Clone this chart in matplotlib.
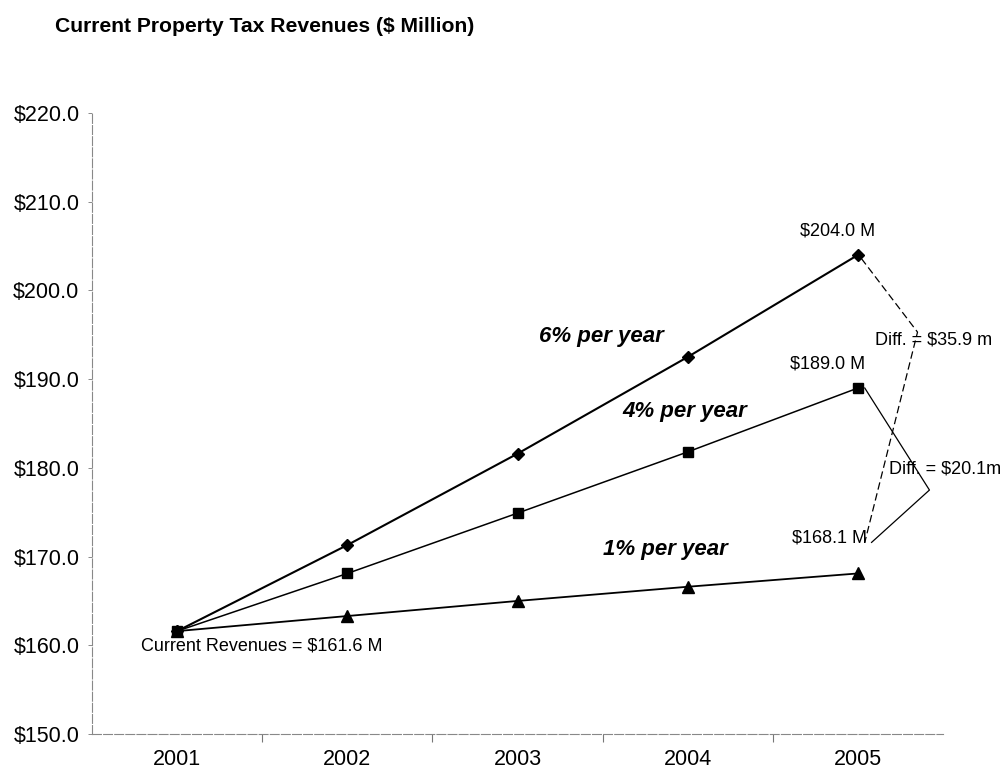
import matplotlib
matplotlib.use('Agg')
import matplotlib.pyplot as plt
from matplotlib.ticker import FixedLocator, FuncFormatter

plt.rcParams['font.family'] = ['Liberation Sans', 'DejaVu Sans']

# --- Data ---
years = [2001, 2002, 2003, 2004, 2005]
rev_6pct = [161.6, 171.3, 181.6, 192.5, 204.0]
rev_4pct = [161.6, 168.1, 174.9, 181.8, 189.0]
rev_1pct = [161.6, 163.3, 165.0, 166.6, 168.1]
current_rev = 161.6
y_ticks = [150, 160, 170, 180, 190, 200, 210, 220]
diff_6_label = 'Diff. = $35.9 m'
diff_4_label = 'Diff. = $20.1m'

fig = plt.figure(figsize=(10.07, 7.77), dpi=100)
ax = fig.add_axes([0.0914, 0.0553, 0.8451, 0.7993])

ax.plot(years, rev_6pct, color='black', lw=1.5, marker='D', ms=6, zorder=3)
ax.plot(years, rev_4pct, color='black', lw=1.1, marker='s', ms=7, zorder=3)
ax.plot(years, rev_1pct, color='black', lw=1.3, marker='^', ms=8, zorder=3)

ax.set_xlim(years[0] - 0.5, years[-1] + 0.5)
ax.set_ylim(y_ticks[0], y_ticks[-1])

# y axis
ax.yaxis.set_major_locator(FixedLocator(y_ticks))
ax.yaxis.set_major_formatter(FuncFormatter(lambda v, p: f'${v:.1f}'))
ax.tick_params(axis='y', length=3, width=0.6, color='#777777', pad=6, labelsize=15.5)

# x axis: labels centred on categories, ticks between them
ax.set_xticks(years)
ax.set_xticklabels([str(y) for y in years])
ax.set_xticks([y + 0.5 for y in years[:-1]], minor=True)
ax.tick_params(axis='x', which='major', length=0, pad=11, labelsize=15.5)
ax.tick_params(axis='x', which='minor', length=6, width=0.8, color='#777777')

for side in ['top', 'right']:
    ax.spines[side].set_visible(False)
for side in ['left', 'bottom']:
    ax.spines[side].set_color('#888888')
    ax.spines[side].set_linewidth(0.8)
    ax.spines[side].set_linestyle((0, (8, 2)))

# value labels at 2005
ax.text(years[-1] - 0.12, rev_6pct[-1] + 1.7, f'${rev_6pct[-1]:.1f} M', ha='center', va='bottom', fontsize=13)
ax.text(years[-1] - 0.18, rev_4pct[-1] + 1.7, f'${rev_4pct[-1]:.1f} M', ha='center', va='bottom', fontsize=13)
ax.text(years[-1] - 0.17, rev_1pct[-1] + 4.0, f'${rev_1pct[-1]:.1f} M', ha='center', va='center', fontsize=13)

# difference brackets
top_x = years[-1]
ax.plot([top_x + 0.02, top_x + 0.35, top_x + 0.04],
        [rev_6pct[-1] - 0.4, 195.3, rev_1pct[-1] + 3.5],
        color='black', lw=0.9, ls=(0, (6, 3)))
ax.plot([top_x + 0.04, top_x + 0.42, top_x + 0.08],
        [rev_4pct[-1], 177.5, rev_1pct[-1] + 3.5],
        color='black', lw=0.9)
ax.text(top_x + 0.1, 194.4, diff_6_label, ha='left', va='center', fontsize=13)
ax.text(top_x + 0.18, 179.9, diff_4_label, ha='left', va='center', fontsize=13)

# series labels
ax.text(2003.49, 194.8, '6% per year', ha='center', va='center', fontsize=16, fontweight='bold', style='italic')
ax.text(2003.98, 186.3, '4% per year', ha='center', va='center', fontsize=16, fontweight='bold', style='italic')
ax.text(2003.87, 170.8, '1% per year', ha='center', va='center', fontsize=16, fontweight='bold', style='italic')

# current revenue note
ax.text(years[0] - 0.21, current_rev - 1.7, f'Current Revenues = ${current_rev:.1f} M', ha='left', va='center', fontsize=13)

fig.text(55 / 1007, 1 - 26 / 777, 'Current Property Tax Revenues ($ Million)',
         ha='left', va='center', fontsize=15.2, fontweight='bold')

fig.savefig('out.png', dpi=100)
